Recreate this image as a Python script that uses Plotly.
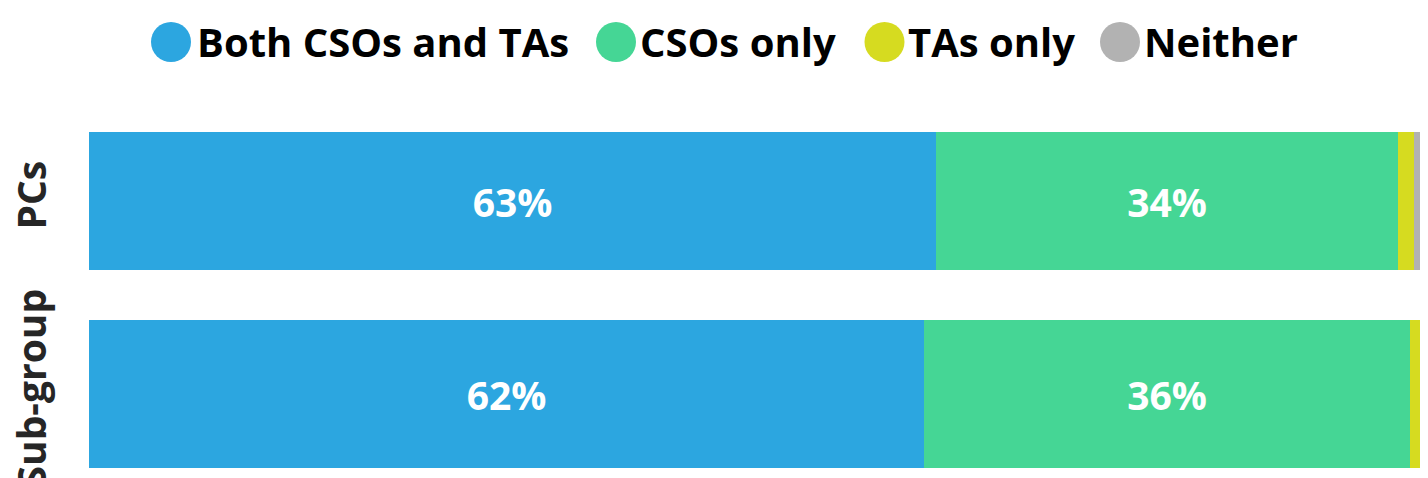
import plotly.graph_objects as go

categories = ["PCs", "Sub-group"]
series_names = ["Both CSOs and TAs", "CSOs only", "TAs only", "Neither"]
both_vals = [63.0, 62.1]
csos_vals = [34.4, 36.2]
tas_vals = [1.2, 1.7]
neither_vals = [1.4, 0.0]
series_values = [both_vals, csos_vals, tas_vals, neither_vals]
show_labels = [True, True, False, False]
colors = ["#2CA6E0", "#45D695", "#D6DB20", "#B2B2B2"]

BODY = 8  # default page body margin offset
W, H = 1428 - BODY, 478 - BODY
ML, MR, MT, MB = 89 - BODY, 0, 100 - BODY, 0
PX_PER_PCT = 13.44
FONT = "Open Sans"

fig = go.Figure()
for name, vals, lab, col in zip(series_names, series_values, show_labels, colors):
    fig.add_trace(go.Bar(
        y=categories, x=vals, name=name, orientation="h",
        marker=dict(color=col, line=dict(width=0)),
        width=[0.715, 0.767],
        texttemplate="%{x:.0f}%" if lab else None,
        textposition="inside" if lab else "none",
        insidetextanchor="middle",
        insidetextfont=dict(family=FONT, size=39, color="white", weight="bold"),
        showlegend=False,
        hoverinfo="skip",
    ))

plot_w = W - ML - MR
plot_h = H - MT - MB
fig.update_layout(
    width=W, height=H,
    margin=dict(l=ML, r=MR, t=MT, b=MB, pad=0, autoexpand=False),
    barmode="stack", bargap=0,
    plot_bgcolor="white", paper_bgcolor="white",
    xaxis=dict(range=[0, plot_w / PX_PER_PCT], visible=False, fixedrange=True,
               automargin=False),
    yaxis=dict(type="category", range=[1.435, -0.523], showgrid=False, zeroline=False,
               showline=False, ticks="", tickangle=-90, ticklabelstandoff=34,
               automargin=False,
               tickfont=dict(family=FONT, size=39, color="#262626", weight="bold")),
    font=dict(family=FONT),
)

# legend drawn manually with circle markers (window pixel positions)
leg_circle_px = [171, 616, 884.5, 1120]
leg_text_px = [195, 638, 906, 1142]
leg_y_px = 42
def px_x(p):
    return (p - 89) / plot_w
def px_y(p):
    return (100 + plot_h - p) / plot_h

for name, col, cx, tx in zip(series_names, colors, leg_circle_px, leg_text_px):
    fig.add_shape(type="circle", xref="paper", yref="paper",
                  xsizemode="pixel", ysizemode="pixel",
                  xanchor=px_x(cx), yanchor=px_y(leg_y_px),
                  x0=-20, x1=20, y0=-20, y1=20,
                  fillcolor=col, line=dict(width=0))
    fig.add_annotation(x=px_x(tx), y=px_y(leg_y_px), xref="paper", yref="paper",
                       xanchor="left", yanchor="middle", showarrow=False,
                       text=name,
                       font=dict(family=FONT, size=40, color="black", weight="bold"))

fig.write_html("out.html")
